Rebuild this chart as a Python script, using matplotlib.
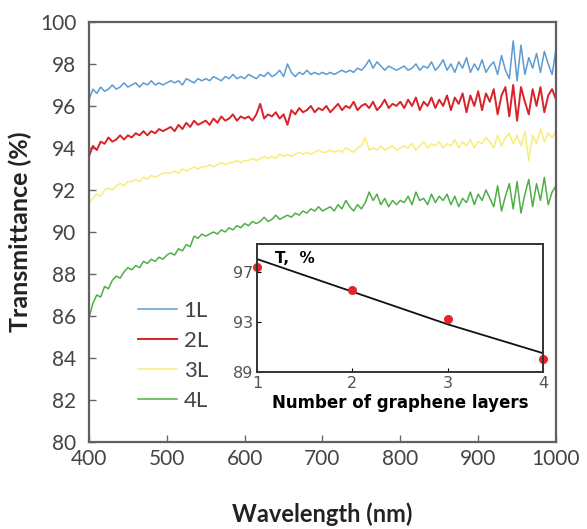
import numpy as np
import matplotlib
matplotlib.use("Agg")
import matplotlib.pyplot as plt

# wavelength grid of the spectra (nm), one reading every 5 nm
wavelength = np.arange(400, 1001, 5)

t_1L = [96.3, 96.8, 96.6, 96.9, 96.7, 96.8, 97.0, 96.8, 96.9, 97.1, 96.9,
        97.0, 97.1, 96.9, 97.1, 97.0, 97.2, 97.0, 97.1, 97.0, 97.1,
        97.2, 97.1, 97.2, 97.0, 97.3, 97.2, 97.1, 97.3, 97.2, 97.3,
        97.2, 97.4, 97.3, 97.2, 97.4, 97.3, 97.5, 97.3, 97.4, 97.3,
        97.5, 97.4, 97.3, 97.5, 97.4, 97.6, 97.4, 97.5, 97.7, 97.4,
        98.0, 97.6, 97.4, 97.6, 97.5, 97.7, 97.5, 97.6, 97.5, 97.6,
        97.5, 97.6, 97.5, 97.6, 97.7, 97.6, 97.7, 97.6, 97.8, 97.7,
        97.9, 98.2, 97.8, 98.1, 97.9, 97.7, 97.9, 97.8, 97.7, 97.8,
        97.9, 97.7, 97.8, 98.0, 97.7, 97.9, 97.8, 98.1, 97.7, 97.9,
        98.2, 97.7, 98.0, 97.6, 98.1, 97.8, 98.3, 97.6, 98.0, 97.7,
        98.2, 97.6, 97.9, 98.1, 97.5, 98.4, 97.7, 97.3, 99.1, 97.2,
        98.9, 97.5, 98.3, 97.8, 98.5, 97.6, 98.6, 98.0, 97.5, 98.7]

t_2L = [93.6, 94.1, 93.9, 94.3, 94.2, 94.5, 94.3, 94.4, 94.6, 94.4, 94.6,
        94.5, 94.7, 94.6, 94.8, 94.6, 94.8, 94.7, 94.9, 94.8, 94.9,
        95.0, 94.8, 95.1, 94.9, 95.2, 95.0, 95.3, 95.1, 95.2, 95.3,
        95.1, 95.4, 95.2, 95.5, 95.3, 95.4, 95.6, 95.3, 95.5, 95.4,
        95.5, 95.3, 95.6, 96.1, 95.4, 95.6, 95.5, 95.7, 95.4, 95.6,
        95.1, 95.8, 95.6, 95.9, 95.7, 95.8, 96.0, 95.7, 95.9, 95.8,
        96.0, 95.7, 95.9, 96.1, 95.8, 96.0, 95.9, 96.2, 95.8, 96.0,
        96.1, 95.9, 96.2, 95.8, 96.0, 96.3, 95.9, 96.1, 96.0, 96.2,
        95.9, 96.3, 96.0, 96.4, 95.8, 96.2, 96.0, 96.4, 95.9, 96.3,
        96.0, 96.5, 95.8, 96.4, 96.1, 96.6, 95.7, 96.5, 96.0, 96.7,
        95.8, 96.6, 96.2, 96.8, 95.6, 96.5, 96.9, 95.5, 97.0, 95.3,
        96.9, 96.2, 95.6, 96.8, 96.0, 96.9, 95.7, 96.5, 96.8, 96.3]

t_3L = [91.4, 91.6, 91.8, 91.7, 92.0, 92.1, 92.0, 92.2, 92.3, 92.2, 92.4,
        92.4, 92.5, 92.4, 92.6, 92.5, 92.7, 92.6, 92.7, 92.8, 92.8,
        92.8, 92.9, 92.8, 93.0, 92.9, 93.0, 93.1, 93.0, 93.1, 93.1,
        93.2, 93.1, 93.2, 93.3, 93.2, 93.3, 93.3, 93.4, 93.3, 93.4,
        93.4, 93.5, 93.4, 93.5, 93.6, 93.5, 93.6, 93.5, 93.7, 93.6,
        93.7, 93.6, 93.7, 93.8, 93.7, 93.8, 93.7, 93.8, 93.9, 93.8,
        93.8, 93.9, 93.8, 93.9, 93.8, 94.0, 93.9, 93.8, 94.0, 94.1,
        94.5, 93.9, 94.0, 93.9, 94.1, 93.9, 94.0, 94.1, 93.9, 94.0,
        94.1, 94.0, 94.2, 93.9, 94.1, 94.3, 94.0, 94.2, 94.1, 94.3,
        94.0, 94.2, 94.1, 94.4, 94.0, 94.3, 94.1, 94.4, 94.0, 94.3,
        94.2, 94.5, 94.3, 94.0, 94.6, 94.1, 94.5, 94.7, 94.2, 94.6,
        94.1, 94.8, 93.4, 94.6, 94.2, 94.9, 94.3, 94.7, 94.5, 94.8]

t_4L = [85.9, 86.6, 87.0, 86.9, 87.4, 87.3, 87.7, 87.9, 87.8, 88.1, 88.3,
        88.2, 88.4, 88.3, 88.6, 88.5, 88.7, 88.6, 88.8, 88.7, 88.9,
        89.0, 88.9, 89.2, 89.1, 89.4, 89.3, 89.8, 89.7, 89.9, 89.8,
        89.9, 90.0, 89.9, 90.1, 90.0, 90.2, 90.1, 90.3, 90.2, 90.4,
        90.3, 90.5, 90.4, 90.5, 90.7, 90.5, 90.6, 90.8, 90.6, 90.7,
        90.8, 90.7, 90.9, 90.8, 91.0, 90.9, 91.1, 91.0, 91.2, 91.0,
        91.1, 91.2, 91.0, 91.3, 91.1, 91.5, 91.2, 91.0, 91.3, 91.1,
        91.4, 91.9, 91.5, 91.8, 91.3, 91.6, 91.2, 91.5, 91.3, 91.5,
        91.4, 91.7, 91.3, 91.9, 91.5, 91.6, 91.3, 91.8, 91.4, 91.7,
        91.5, 91.8, 91.3, 91.7, 91.2, 91.6, 91.4, 91.9, 91.3, 91.8,
        91.5, 92.0, 91.6, 91.2, 92.2, 91.0, 91.7, 92.3, 91.1, 92.4,
        90.9, 91.8, 92.5, 91.2, 92.3, 91.5, 92.6, 91.3, 91.9, 92.2]

labels = ["1L", "2L", "3L", "4L"]
colors = ["#5b9bd5", "#d9232b", "#f6ee78", "#4fae48"]
widths = [1.1, 1.4, 1.1, 1.1]

# inset: transmittance vs number of layers
layers = [1, 2, 3, 4]
t_measured = [97.4, 95.5, 93.2, 90.0]
t_fit = [98.0, 95.4, 92.8, 90.5]

fig = plt.figure(figsize=(5.87, 5.29), dpi=100)
ax = fig.add_axes([0.1516, 0.1645, 0.7956, 0.794])

for y, lab, c, lw in zip([t_1L, t_2L, t_3L, t_4L], labels, colors, widths):
    ax.plot(wavelength, y, color=c, lw=lw, label=lab)

ax.set_xlim(400, 1000)
ax.set_ylim(80, 100)
ax.set_xticks(range(400, 1001, 100))
ax.set_yticks(range(80, 101, 2))
ax.tick_params(direction="in", length=5, width=1, color="#666666",
               labelsize=15, labelcolor="#444444")
ax.tick_params(axis="y", pad=9)
ax.tick_params(axis="x", pad=5)
for lab in ax.get_xticklabels() + ax.get_yticklabels():
    lab.set_fontfamily("Lato")
for s in ax.spines.values():
    s.set_color("#606060")
    s.set_linewidth(1.6)

ax.set_xlabel("Wavelength (nm)", fontsize=17, fontweight="bold",
              fontfamily="Lato", labelpad=24, color="#222222")
ax.set_ylabel("Transmittance (%)", fontsize=18, fontweight="bold",
              fontfamily="Lato", labelpad=6, color="#222222")

leg = ax.legend(loc="center left", bbox_to_anchor=(0.105, 0.205),
                frameon=False, handlelength=1.75,
                handletextpad=0.3, labelspacing=0.45, borderpad=0,
                borderaxespad=0, prop={"family": "Lato", "size": 16})
for t in leg.get_texts():
    t.set_color("#444444")

# inset
ins = fig.add_axes([0.4378, 0.2968, 0.4872, 0.2420])
ins.plot(layers, t_fit, color="#111111", lw=1.3)
ins.plot(layers, t_measured, "o", color="#e3262b", ms=5.5, clip_on=False)
ins.set_xlim(1, 4)
ins.set_ylim(89, 99.2)
ins.set_xticks(layers)
ins.set_yticks([89, 93, 97])
ins.tick_params(direction="in", length=3, labelsize=11.5, labelcolor="#555555",
                pad=3)
for s in ins.spines.values():
    s.set_color("#333333")
    s.set_linewidth(1.4)
ins.set_xlabel("Number of graphene layers", fontsize=12, fontweight="bold",
               labelpad=2)
ins.text(0.063, 0.89, "T,  %", transform=ins.transAxes, fontsize=11,
         fontweight="bold", va="center", ha="left")

fig.savefig("out.png", dpi=100)
